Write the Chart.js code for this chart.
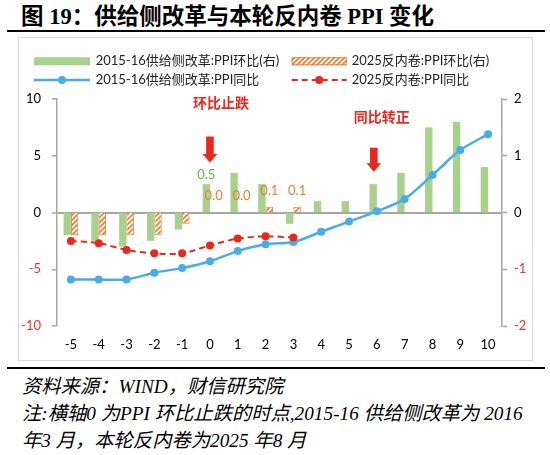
<!DOCTYPE html>
<html>
<head>
<meta charset="utf-8">
<script src="https://cdn.jsdelivr.net/npm/chart.js@4.4.1/dist/chart.umd.min.js"></script>
<style>
  html, body { margin: 0; padding: 0; background: #fff; }
  body { width: 550px; height: 455px; position: relative; overflow: hidden; }
  #title { position: absolute; left: 21px; top: -2px; font-family: "Liberation Serif", "Noto Sans CJK SC", serif; font-weight: bold; font-size: 22.5px; color: #000; white-space: nowrap; }
  .rule { position: absolute; left: 7px; width: 538px; height: 2px; background: #000; }
  #box { position: absolute; left: 18px; top: 37px; width: 513px; height: 322px; border: 1px solid #d9d9d9; }
  #box canvas { display: block; }
  .note { position: absolute; left: 22px; font-family: "Liberation Serif", "Noto Sans CJK SC", serif; font-style: italic; font-size: 19.3px; color: #000; white-space: nowrap; }
</style>
</head>
<body>
<div id="title">图 19：供给侧改革与本轮反内卷 PPI 变化</div>
<div class="rule" style="top:30px"></div>
<div id="box"><canvas id="c" width="513" height="322"></canvas></div>
<div class="rule" style="top:367px"></div>
<div class="note" style="top:371px">资料来源：WIND，财信研究院</div>
<div class="note" style="top:398px">注:横轴0 为PPI 环比止跌的时点,2015-16 供给侧改革为 2016</div>
<div class="note" style="top:425px">年3 月，本轮反内卷为2025 年8 月</div>
<script>
// ---- data ----
const categories = ['-5','-4','-3','-2','-1','0','1','2','3','4','5','6','7','8','9','10'];
const supplyMoM = [-0.4, -0.5, -0.6, -0.5, -0.3, 0.5, 0.7, 0.5, -0.2, 0.2, 0.2, 0.5, 0.7, 1.5, 1.6, 0.8];
const antiMoM   = [-0.4, -0.4, -0.4, -0.4, -0.2, 0.0, 0.0, 0.1, 0.1, null, null, null, null, null, null, null];
const supplyYoY = [-5.9, -5.9, -5.9, -5.3, -4.9, -4.3, -3.4, -2.8, -2.6, -1.7, -0.8, 0.1, 1.2, 3.3, 5.5, 6.9];
const antiYoY   = [-2.5, -2.7, -3.3, -3.6, -3.6, -2.9, -2.3, -2.1, -2.2, null, null, null, null, null, null, null];
const leftTicks  = [-10, -5, 0, 5, 10];
const rightTicks = [-2, -1, 0, 1, 2];
const seriesNames = ['2015-16供给侧改革:PPI环比(右)', '2025反内卷:PPI环比(右)', '2015-16供给侧改革:PPI同比', '2025反内卷:PPI同比'];
const greenLabelCats  = ['0'];
const orangeLabelCats = ['0', '1', '2', '3'];
const notes  = [{ text: '环比止跌', cat: '0', value: 9.65, dx: 11 }, { text: '同比转正', cat: '6', value: 8.47, dx: 5 }];
const arrows = [{ cat: '0', from: 6.7, to: 4.4, dx: 0 }, { cat: '6', from: 5.7, to: 3.6, dx: -3 }];

// ---- styles ----
const GREEN = '#A9D18E', ORANGE = '#ED7D31', BLUE = '#4AACE6', RED = '#E8281E';
const AXIS = '#a6a6a6', NEG = '#F0322A';
const FONT = '"Lato", "Noto Sans CJK SC", sans-serif';

function hatch() {
  const p = document.createElement('canvas');
  p.width = 5; p.height = 5;
  const g = p.getContext('2d');
  g.fillStyle = '#fff'; g.fillRect(0, 0, 5, 5);
  g.strokeStyle = ORANGE; g.lineWidth = 1.6;
  g.beginPath();
  g.moveTo(-1, 6); g.lineTo(6, -1);
  g.moveTo(-1, 1); g.lineTo(1, -1);
  g.moveTo(4, 6); g.lineTo(6, 4);
  g.stroke();
  return g.createPattern(p, 'repeat');
}
const hatchFill = hatch();

const extrasPlugin = {
  id: 'extras',
  afterDatasetsDraw(chart) {
    const ctx = chart.ctx;
    const x = chart.scales.x, y = chart.scales.y;
    ctx.save();
    // bar value labels
    ctx.font = '13px ' + FONT;
    ctx.textAlign = 'center';
    ctx.textBaseline = 'bottom';
    [[0, greenLabelCats, '#70AD47', 3, supplyMoM], [1, orangeLabelCats, ORANGE, 10, antiMoM]].forEach(([di, cats, col, off, arr]) => {
      const meta = chart.getDatasetMeta(di);
      cats.forEach(c => {
        const i = categories.indexOf(c);
        const el = meta.data[i];
        ctx.fillStyle = col;
        ctx.fillText(arr[i].toFixed(1), el.x, Math.min(el.y, el.base) - off);
      });
    });
    // arrows
    ctx.fillStyle = RED;
    arrows.forEach(a => {
      const cx = x.getPixelForValue(categories.indexOf(a.cat)) + a.dx;
      const y0 = y.getPixelForValue(a.from), y1 = y.getPixelForValue(a.to);
      const hl = 8.5, sw = 3.8, hw = 7.3;
      ctx.beginPath();
      ctx.moveTo(cx - sw, y0); ctx.lineTo(cx + sw, y0);
      ctx.lineTo(cx + sw, y1 - hl); ctx.lineTo(cx + hw, y1 - hl);
      ctx.lineTo(cx, y1); ctx.lineTo(cx - hw, y1 - hl);
      ctx.lineTo(cx - sw, y1 - hl); ctx.closePath();
      ctx.fill();
    });
    // notes
    ctx.font = 'bold 14px "Noto Sans CJK SC", sans-serif';
    ctx.textBaseline = 'middle';
    notes.forEach(n => {
      ctx.fillText(n.text, x.getPixelForValue(categories.indexOf(n.cat)) + n.dx, y.getPixelForValue(n.value));
    });
    ctx.restore();
  },
  afterDraw(chart) {
    // legend
    const ctx = chart.ctx;
    ctx.save();
    const rows = [23.3, 42];
    const cols = [[15, 71, 76.7], [272.7, 327.7, 332.7]];
    ctx.font = '13px ' + FONT;
    ctx.textBaseline = 'middle';
    ctx.textAlign = 'left';
    // green box
    ctx.fillStyle = GREEN;
    ctx.fillRect(cols[0][0], rows[0] - 4, cols[0][1] - cols[0][0], 8);
    // hatched box
    ctx.fillStyle = hatchFill;
    ctx.fillRect(cols[1][0], rows[0] - 4, cols[1][1] - cols[1][0], 8);
    ctx.strokeStyle = ORANGE; ctx.lineWidth = 1;
    ctx.strokeRect(cols[1][0] + 0.5, rows[0] - 3.5, cols[1][1] - cols[1][0] - 1, 7);
    // blue line
    ctx.strokeStyle = BLUE; ctx.lineWidth = 2.5;
    ctx.beginPath(); ctx.moveTo(cols[0][0], rows[1]); ctx.lineTo(cols[0][1], rows[1]); ctx.stroke();
    ctx.fillStyle = BLUE;
    ctx.beginPath(); ctx.arc((cols[0][0] + cols[0][1]) / 2, rows[1], 4, 0, Math.PI * 2); ctx.fill();
    // red dashed
    ctx.strokeStyle = RED; ctx.lineWidth = 2; ctx.setLineDash([6, 4]);
    ctx.beginPath(); ctx.moveTo(cols[1][0], rows[1]); ctx.lineTo(cols[1][1], rows[1]); ctx.stroke();
    ctx.setLineDash([]);
    ctx.fillStyle = RED;
    ctx.beginPath(); ctx.arc((cols[1][0] + cols[1][1]) / 2, rows[1], 4, 0, Math.PI * 2); ctx.fill();
    // texts
    ctx.fillStyle = '#222';
    ctx.fillText(seriesNames[0], cols[0][2], rows[0]);
    ctx.fillText(seriesNames[1], cols[1][2], rows[0]);
    ctx.fillText(seriesNames[2], cols[0][2], rows[1]);
    ctx.fillText(seriesNames[3], cols[1][2], rows[1]);
    ctx.restore();
  }
};

new Chart(document.getElementById('c'), {
  data: {
    labels: categories,
    datasets: [
      { type: 'bar', label: seriesNames[0], data: supplyMoM, yAxisID: 'y1', backgroundColor: GREEN, borderWidth: 0, order: 2 },
      { type: 'bar', label: seriesNames[1], data: antiMoM, yAxisID: 'y1', backgroundColor: hatchFill, borderColor: ORANGE, borderWidth: 1, order: 2 },
      { type: 'line', label: seriesNames[2], data: supplyYoY, yAxisID: 'y', borderColor: BLUE, backgroundColor: BLUE, borderWidth: 2.5, pointRadius: 4, pointBorderWidth: 0, tension: 0.3, order: 1 },
      { type: 'line', label: seriesNames[3], data: antiYoY, yAxisID: 'y', borderColor: RED, backgroundColor: RED, borderWidth: 2, borderDash: [6, 4], pointRadius: 4, pointBorderWidth: 0, tension: 0.3, order: 0 }
    ]
  },
  options: {
    responsive: false,
    animation: false,
    layout: { padding: { top: 61, left: 0, right: 0, bottom: 0 } },
    plugins: { legend: { display: false }, tooltip: { enabled: false } },
    datasets: { bar: { categoryPercentage: 0.53, barPercentage: 1.0 } },
    scales: {
      x: {
        grid: { display: false, drawTicks: false },
        border: { display: false },
        ticks: { color: '#000', font: { family: FONT, size: 13 }, padding: 11, maxRotation: 0, autoSkip: false },
        afterFit: s => { s.height = 34; }
      },
      y: {
        position: 'left', min: -10, max: 10,
        afterBuildTicks: s => { s.ticks = leftTicks.map(v => ({ value: v })); },
        grid: {
          drawOnChartArea: true, tickLength: 5,
          color: c => (c.tick && c.tick.value === 0) ? AXIS : 'rgba(0,0,0,0)',
          lineWidth: c => (c.tick && c.tick.value === 0) ? 2 : 1.5,
          tickColor: AXIS, tickWidth: 1.5
        },
        border: { display: true, color: AXIS, width: 1.5 },
        ticks: { font: { family: FONT, size: 13 }, padding: 11, color: c => c.tick.value < 0 ? NEG : '#000' },
        afterFit: s => { s.width = 38; }
      },
      y1: {
        position: 'right', min: -2, max: 2,
        afterBuildTicks: s => { s.ticks = rightTicks.map(v => ({ value: v })); },
        grid: { drawOnChartArea: false, tickLength: 5, color: AXIS, tickColor: AXIS, tickWidth: 1.5 },
        border: { display: true, color: AXIS, width: 1.5 },
        ticks: { font: { family: FONT, size: 13 }, padding: 7, color: c => c.tick.value < 0 ? NEG : '#000' },
        afterFit: s => { s.width = 30; }
      }
    }
  },
  plugins: [extrasPlugin]
});
</script>
</body>
</html>
